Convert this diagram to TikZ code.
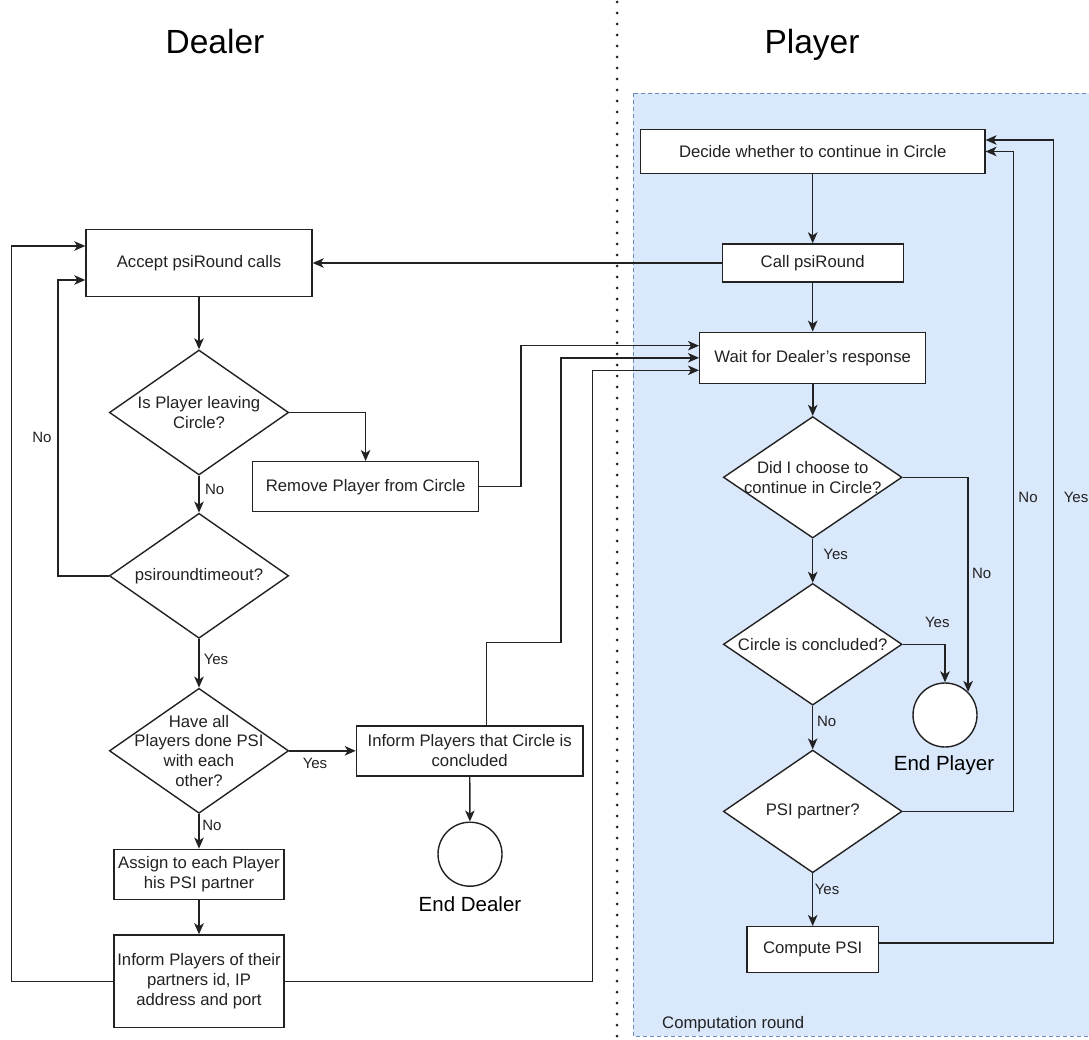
\documentclass[tikz,border=0pt]{standalone}
\usepackage{fontspec}
\setmainfont{Liberation Sans}
\usetikzlibrary{shapes.geometric,arrows.meta,calc}
\definecolor{bluefill}{HTML}{DAE8FC}
\definecolor{blueline}{HTML}{6C8EBF}
\definecolor{ink}{HTML}{222222}
\begin{document}
\begin{tikzpicture}[x=1pt,y=-1pt,
  box/.style={draw=ink, line width=1.4pt, fill=white, inner sep=0pt, align=center, text=ink, font=\fontsize{16.7}{19.7}\selectfont},
  dec/.style={diamond, draw=ink, line width=1.4pt, fill=white, inner sep=0pt},
  dtxt/.style={align=center, inner sep=0pt, text=ink, font=\fontsize{16.7}{19.7}\selectfont},
  endc/.style={circle, draw=ink, line width=1.4pt, fill=white, minimum size=64pt, inner sep=0pt},
  flow/.style={draw=ink, line width=1.4pt, -{Stealth[length=11pt,width=9.5pt,inset=3pt]}},
  lbl/.style={font=\fontsize{15}{17}\selectfont, inner sep=0pt, text=ink},
  ttl/.style={font=\fontsize{33.5}{38}\selectfont, inner sep=0pt, text=black},
  endl/.style={font=\fontsize{20.5}{24}\selectfont, inner sep=0pt, text=black},
]
\useasboundingbox (0,0) rectangle (1089,1040);
\fill[white] (0,0) rectangle (1089,1040);

% Computation round region
\draw[fill=bluefill, draw=blueline, line width=1pt, dash pattern=on 4pt off 3pt] (633,93.5) rectangle (1100,1036);
\node[anchor=base west, font=\fontsize{16.7}{19.7}\selectfont, inner sep=0pt, text=ink] (comp) at (662,1028.5) {Computation round};

% separator
\draw[ink, line width=3pt, line cap=round, dash pattern=on 0pt off 11pt] (617,2) -- (617,1040);

% titles
\node[ttl, anchor=base] (tD) at (215,53.3) {Dealer};
\node[ttl, anchor=base] (tP) at (812,53.3) {Player};

% Dealer column
\node[box, minimum width=226pt, minimum height=67.4pt] (accept) at (199,263) {Accept psiRound calls};
\node[dec, minimum width=179.3pt, minimum height=125pt, label={[dtxt]center:Is Player leaving\\Circle?}] (d1) at (199,412.5) {};
\node[box, minimum width=226.3pt, minimum height=50pt] (remove) at (365.6,486.7) {Remove Player from Circle};
\node[dec, minimum width=179.3pt, minimum height=125pt, label={[dtxt]center:psiroundtimeout?}] (d2) at (199,575.8) {};
\node[dec, minimum width=179.3pt, minimum height=125pt, label={[dtxt]center:Have all\\Players done PSI\\with each\\other?}] (d3) at (199,750.8) {};
\node[box, minimum width=226.5pt, minimum height=50pt] (concluded) at (469.7,750.8) {Inform Players that Circle is\\concluded};
\node[endc] (endD) at (470,854.2) {};
\node[endl, anchor=base] (endDl) at (470,911.3) {End Dealer};
\node[box, minimum width=169.7pt, minimum height=50pt] (assign) at (199,874.3) {Assign to each Player\\his PSI partner};
\node[box, minimum width=169.7pt, minimum height=92.7pt] (informP) at (199,981.3) {Inform Players of their\\partners id, IP\\address and port};

% Player column
\node[box, minimum width=344.3pt, minimum height=43.6pt] (decide) at (812.7,151.5) {Decide whether to continue in Circle};
\node[box, minimum width=181pt, minimum height=38pt] (call) at (812.7,263) {Call psiRound};
\node[box, minimum width=226pt, minimum height=51pt] (wait) at (812.7,357.8) {Wait for Dealer's response};
\node[dec, minimum width=178.7pt, minimum height=121.5pt, label={[dtxt]center:Did I choose to\\continue in Circle?}] (didI) at (812.7,477.3) {};
\node[dec, minimum width=178.7pt, minimum height=121.7pt, label={[dtxt]center:Circle is concluded?}] (concl) at (812.7,644.3) {};
\node[endc] (endP) at (945,715) {};
\node[endl, anchor=base] (endPl) at (944,770.6) {End Player};
\node[dec, minimum width=178.7pt, minimum height=122.7pt, label={[dtxt]center:PSI partner?}] (psi) at (812.7,811.4) {};
\node[box, minimum width=131.4pt, minimum height=46pt] (compute) at (812.7,949.7) {Compute PSI};

% routing coordinates
\coordinate (xL1) at (11.7,600);
\coordinate (xL2) at (57.9,500);
\coordinate (xA) at (521,400);
\coordinate (kink) at (560.8,642.7);
\coordinate (xC) at (592.6,600);
\coordinate (xNo) at (1013.3,400);
\coordinate (xYes) at (1053.3,400);

% Player edges
\draw[flow] (decide) -- (call);
\draw[flow] (call) -- (accept);
\draw[flow] (call) -- (wait);
\draw[flow, line width=2pt] (wait) -- (didI);
\draw[flow] (didI.east) -| (endP.north east);
\draw[flow] (didI) -- (concl);
\draw[flow] (concl.east) -| (endP.north);
\draw[flow] (concl) -- (psi);
\draw[flow] (psi) -- (compute);
\draw[flow] (psi.east) -| (xNo) |- (decide.east);
\draw[flow] ($(compute.east)+(0,-6.7)$) -| (xYes) |- ($(decide.east)+(0,-11.5)$);

% Dealer edges
\draw[flow] (accept) -- (d1);
\draw[flow] (d1.east) -| (remove.north);
\draw[flow] (d1) -- (d2);
\draw[flow] (d2.west) -| (xL2) |- ($(accept.west)+(0,17)$);
\draw[flow] (d2) -- (d3);
\draw[flow] (d3) -- (concluded);
\draw[flow] (concluded) -- (endD);
\draw[flow] (d3) -- (assign);
\draw[flow, line width=2pt] (assign) -- (informP);
\draw[flow] (informP.west) -| (xL1) |- ($(accept.west)+(0,-17)$);
\draw[flow] (informP.east) -| (xC) |- ($(wait.west)+(0,12.5)$);
\draw[flow] (remove.east) -| (xA) |- ($(wait.west)+(0,-12.1)$);
\draw[flow] ($(concluded.north)+(16.5,0)$) |- (kink) |- (wait.west);

% edge labels
\node[lbl] (l1) at (42,437.3) {No};
\node[lbl] (l2) at (214.7,489.3) {No};
\node[lbl] (l3) at (216,659.3) {Yes};
\node[lbl] (l4) at (315,763.3) {Yes};
\node[lbl] (l5) at (212,825) {No};
\node[lbl] (l6) at (835.7,554) {Yes};
\node[lbl] (l7) at (981.7,573) {No};
\node[lbl] (l8) at (937.3,622.7) {Yes};
\node[lbl] (l9) at (826.7,721) {No};
\node[lbl] (l10) at (827,889) {Yes};
\node[lbl] (l11) at (1028,497) {No};
\node[lbl] (l12) at (1076,497) {Yes};
\end{tikzpicture}
\end{document}
